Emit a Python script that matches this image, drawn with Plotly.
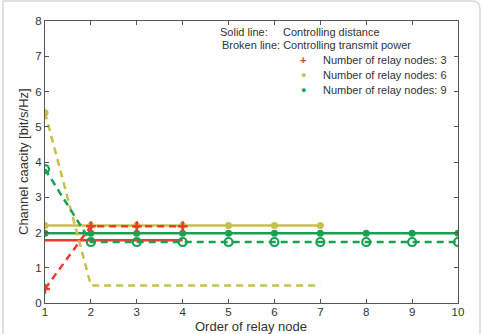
import plotly.graph_objects as go

order = [1, 2, 3, 4, 5, 6, 7, 8, 9, 10]

# Solid line: controlling distance
dist_n3 = [1.78, 1.78, 1.78, 1.78]
dist_n6 = [2.2, 2.2, 2.2, 2.2, 2.2, 2.2, 2.2]
dist_n9 = [1.98, 1.98, 1.98, 1.98, 1.98, 1.98, 1.98, 1.98, 1.98, 1.98]

# Broken line: controlling transmit power
pow_n3 = [0.4, 2.18, 2.18, 2.18]
pow_n6 = [5.4, 0.5, 0.5, 0.5, 0.5, 0.5, 0.5]
pow_n9 = [3.8, 1.73, 1.73, 1.73, 1.73, 1.73, 1.73, 1.73, 1.73, 1.73]

legend_labels = ["Number of relay nodes: 3", "Number of relay nodes: 6", "Number of relay nodes: 9"]
x_title = "Order of relay node"
y_title = "Channel caacity [bit/s/Hz]"

RED = "#ee3b2c"
YEL = "#c9bf4a"
GRN = "#1aa052"
DASH = "7px,5px"
FONT = "Liberation Sans, Arial"

fig = go.Figure()

# solid lines
fig.add_trace(go.Scatter(x=order[:4], y=dist_n3, mode="lines", line=dict(color=RED, width=2.5), showlegend=False))
fig.add_trace(go.Scatter(x=order[:7], y=dist_n6, mode="lines+markers", line=dict(color=YEL, width=2.5),
                         marker=dict(color=YEL, size=7), showlegend=False))
fig.add_trace(go.Scatter(x=order, y=dist_n9, mode="lines+markers", line=dict(color=GRN, width=2.5),
                         marker=dict(color=GRN, size=7), showlegend=False))

# broken lines
fig.add_trace(go.Scatter(x=order[:4], y=pow_n3, mode="lines+markers", line=dict(color=RED, width=2.5, dash=DASH),
                         marker=dict(symbol="cross-thin", color=RED, size=7, line=dict(color=RED, width=2.5)), showlegend=False))
fig.add_trace(go.Scatter(x=order[:7], y=pow_n6, mode="lines", line=dict(color=YEL, width=2.5, dash=DASH), showlegend=False))
fig.add_trace(go.Scatter(x=order[:1], y=pow_n6[:1], mode="markers", marker=dict(color=YEL, size=7), showlegend=False))
fig.add_trace(go.Scatter(x=order, y=pow_n9, mode="lines+markers", line=dict(color=GRN, width=2.5, dash=DASH),
                         marker=dict(symbol="circle-open", color=GRN, size=8, line=dict(width=2.2, color=GRN)), showlegend=False))

axis_common = dict(showgrid=False, zeroline=False, showline=True, linecolor="#555", linewidth=1,
                   mirror="ticks", ticks="inside", ticklen=4, tickcolor="#555", automargin=False,
                   tickfont=dict(family=FONT, size=11.5, color="#333"))

def px_x(p):
    return (p - 45) / 413.0

def px_y(p):
    return (303 - p) / 282.0

annotations = [
    dict(text="Solid line:     Controlling distance", x=px_x(218), y=px_y(32)),
    dict(text="Broken line: Controlling transmit power", x=px_x(220), y=px_y(45)),
    dict(text=x_title, x=px_x(251), y=px_y(335), xanchor="center", yanchor="bottom", borderpad=0,
         font=dict(family=FONT, size=13, color="#333")),
    dict(text=y_title, x=px_x(23), y=px_y(162), xanchor="center", textangle=-90,
         font=dict(family=FONT, size=13, color="#333")),
]
legend_colors = [RED, YEL, GRN]
legend_symbols = ["<b>+</b>", "●", "●"]
legend_rows = [60, 75, 90]
for lab, col, sym, row in zip(legend_labels, legend_colors, legend_symbols, legend_rows):
    annotations.append(dict(text=lab, x=px_x(321), y=px_y(row)))
    annotations.append(dict(text=sym, x=px_x(303), y=px_y(row), xanchor="center",
                            font=dict(family=FONT, size=9 if sym == "●" else 11, color=col)))
for a in annotations:
    a.setdefault("xanchor", "left")
    a.setdefault("yanchor", "middle")
    a.setdefault("font", dict(family=FONT, size=11, color="#333"))
    a.update(xref="paper", yref="paper", showarrow=False)

fig.update_layout(
    width=483, height=334,
    margin=dict(l=45, r=25, t=21, b=31),
    paper_bgcolor="white", plot_bgcolor="white",
    font=dict(family=FONT, color="#333"),
    showlegend=False,
    xaxis=dict(range=[1, 10], tickvals=order, ticklabelstandoff=-2, **axis_common),
    yaxis=dict(range=[0, 8], tickvals=[0, 1, 2, 3, 4, 5, 6, 7, 8], **axis_common),
    annotations=annotations,
    shapes=[
        dict(type="path", xref="paper", yref="paper",
             path=f"M {px_x(3)} {px_y(340)} L {px_x(3)} {px_y(1)} L {px_x(472)} {px_y(1)} "
                  f"Q {px_x(480)} {px_y(1)} {px_x(480)} {px_y(9)} L {px_x(480)} {px_y(340)}",
             line=dict(color="#d8d8d8", width=1.5)),
    ],
)

fig.write_html("out.html")
